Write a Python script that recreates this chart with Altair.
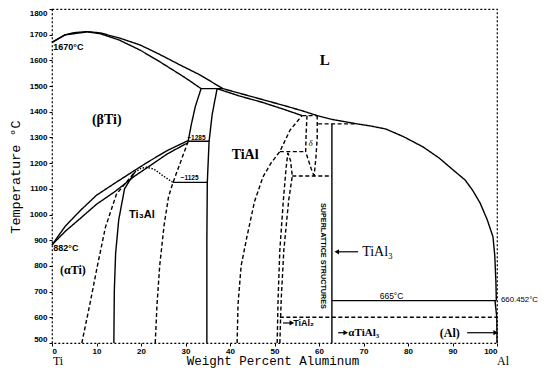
import altair as alt
import pandas as pd

# ---- phase boundaries: (wt% Al, temperature °C) ----
liq_left = [(0, 1670), (2.9, 1699), (5, 1708), (7.9, 1712), (10.8, 1707), (15, 1688), (19.8, 1660),
            (24, 1625), (28.8, 1582), (33.3, 1543), (38.4, 1490)]
sol_left = [(0, 1670), (2.9, 1699), (7.9, 1711), (10.8, 1704), (15, 1680), (19.8, 1640), (24, 1597),
            (28.8, 1545), (31, 1520), (33.5, 1490)]
peri_1490 = [(33.5, 1490), (38.4, 1490)]
liq_mid = [(38.4, 1490), (43, 1468), (47.4, 1447), (52, 1425), (56.2, 1404), (59.6, 1385)]
sol_mid = [(37.1, 1490), (42, 1462), (47.4, 1436), (52, 1410), (56.2, 1385)]
peri_1385 = [(56.2, 1385), (59.6, 1385)]
liq_right = [(59.6, 1385), (63, 1370), (68.5, 1353), (71.5, 1345), (75, 1333), (79, 1303), (83.4, 1263),
             (87, 1220), (90.1, 1174), (92.8, 1135), (94.5, 1095), (96.2, 1045), (97.8, 980), (99.1, 913),
             (99.5, 840), (99.75, 740), (99.85, 665)]
peri_1350 = [(59.8, 1353), (68.5, 1353)]
tial3_line = [(62.9, 1353), (62.9, 500)]
beta_upper = [(0, 882), (3, 955), (6.5, 1018), (10, 1075), (14.2, 1123), (18.6, 1172), (21.6, 1205),
              (26, 1250), (30.6, 1288)]
beta_lower = [(0, 882), (3, 935), (6.5, 987), (10, 1040), (14.2, 1090), (18.6, 1150), (21.6, 1185),
              (26, 1237), (30.6, 1280)]
line_1285 = [(30.6, 1285), (35.3, 1285)]
alpha_tial_top = [(30.6, 1285), (31.3, 1350), (32.2, 1420), (33.5, 1490)]
tial_left = [(34.8, 500), (34.8, 900), (34.9, 1125), (35.3, 1285), (36.0, 1390), (37.1, 1490)]
line_1125 = [(27.2, 1125), (34.9, 1125)]
ti3al_dome = [(18.6, 1165), (20, 1180), (21.3, 1184), (23, 1176), (25, 1150), (27.2, 1125)]
ti3al_right = [(23.2, 500), (23.6, 650), (24.2, 800), (25.2, 960), (26.2, 1070), (27.2, 1125),
               (28.9, 1205), (30.6, 1285)]
alpha_solvus = [(6.7, 500), (8.5, 650), (10.2, 800), (12, 950), (14.5, 1080), (18.6, 1165)]
ti3al_left = [(13.9, 500), (14.0, 700), (14.3, 850), (15, 980), (16.3, 1100), (18.6, 1165)]
tial_right = [(41.6, 500), (41.8, 650), (42.5, 800), (43.8, 913), (45.5, 1050), (47.4, 1146),
              (49.2, 1200), (51.2, 1245), (53.5, 1329), (56.2, 1385)]
line_1245 = [(51.2, 1245), (57.0, 1245)]
delta_left = [(57.3, 1385), (57.1, 1310), (57.0, 1245), (58.2, 1180), (58.9, 1150)]
delta_right = [(59.6, 1385), (59.6, 1300), (59.3, 1220), (58.9, 1150)]
line_1150 = [(54.0, 1150), (62.9, 1150)]
tial2_a = [(50.6, 500), (50.8, 668), (51.2, 862), (52.0, 1057), (52.6, 1180), (53.0, 1240)]
tial2_b = [(51.2, 500), (51.5, 668), (52.1, 862), (53.2, 1057), (54.0, 1150), (53.6, 1210), (53.0, 1240)]
line_665 = [(62.9, 665), (99.85, 665)]
line_600 = [(51.2, 600), (100, 600)]
al_solvus = [(99.55, 665), (99.95, 600), (100, 500)]

curves = {
    "liq_left": ("solid", liq_left), "sol_left": ("solid", sol_left), "peri_1490": ("solid", peri_1490),
    "liq_mid": ("solid", liq_mid), "sol_mid": ("solid", sol_mid), "peri_1385": ("dashed", peri_1385),
    "liq_right": ("solid", liq_right), "peri_1350": ("dashed", peri_1350), "tial3": ("solid", tial3_line),
    "beta_upper": ("solid", beta_upper), "beta_lower": ("solid", beta_lower), "l1285": ("solid", line_1285),
    "alpha_tial_top": ("solid", alpha_tial_top), "tial_left": ("solid", tial_left),
    "l1125": ("solid", line_1125), "dome": ("dotted", ti3al_dome), "ti3al_right": ("dashed", ti3al_right),
    "alpha_solvus": ("dashed", alpha_solvus), "ti3al_left": ("solid", ti3al_left),
    "tial_right": ("dashed", tial_right), "l1245": ("dashed", line_1245), "delta_left": ("dashed", delta_left),
    "delta_right": ("dashed", delta_right), "l1150": ("dashed", line_1150), "tial2_a": ("dashed", tial2_a),
    "tial2_b": ("dashed", tial2_b), "l665": ("solid", line_665), "l600": ("dashed", line_600),
    "al_solvus": ("solid", al_solvus),
}

rows = []
for name, (style, pts) in curves.items():
    for i, (xv, tv) in enumerate(pts):
        rows.append({"seg": name, "style": style, "ord": i, "x": xv, "T": tv})
lines_df = pd.DataFrame(rows)

# arrows: (x_start, x_end, T, head direction)
arrows = [(64.0, 68.8, 855, "left"), (51.9, 53.9, 578, "right"), (64.3, 66.0, 540, "right"),
          (93.3, 99.7, 540, "right")]
arrow_df = pd.DataFrame([{"x": a, "x2": b, "T": t, "hx": (a if d == "left" else b),
                          "shape": ("triangle-left" if d == "left" else "triangle-right")}
                         for a, b, t, d in arrows])

x_ticks = list(range(0, 101, 10))
y_ticks = list(range(500, 1801, 100))

xs = alt.Scale(domain=[0, 100], nice=False, zero=False)
ys = alt.Scale(domain=[500, 1800], nice=False, zero=False)
x_axis = alt.Axis(values=x_ticks, title=None, domain=False, grid=False, tickSize=3, tickColor="black",
                  labelFontSize=8, labelFont="Liberation Sans", labelFontWeight="bold", labelColor="black",
                  labelPadding=1, format="d", labelOverlap=False)
y_axis = alt.Axis(values=y_ticks, title=None, domain=False, grid=False, tickSize=3, tickColor="black",
                  labelFontSize=8, labelFont="Liberation Sans", labelFontWeight="bold", labelColor="black",
                  labelPadding=2, format="d", labelOverlap=False, tickCount=14, labelFlush=1)


def X(field="x"):
    return alt.X(f"{field}:Q", scale=xs, axis=x_axis)


def Y(field="T"):
    return alt.Y(f"{field}:Q", scale=ys, axis=y_axis)


lines = alt.Chart(lines_df).mark_line(color="black", strokeWidth=1.4).encode(
    x=X(), y=Y(), detail="seg:N", order="ord:Q",
    strokeDash=alt.StrokeDash("style:N", legend=None,
                              scale=alt.Scale(domain=["solid", "dashed", "dotted"],
                                              range=[[1, 0], [4, 2.5], [1.5, 1.5]])))

arrow_lines = alt.Chart(arrow_df).mark_rule(color="black", strokeWidth=1.2).encode(
    x=X(), x2="x2:Q", y=Y())
arrow_heads = alt.Chart(arrow_df).mark_point(color="black", filled=True, size=28, opacity=1).encode(
    x=X("hx"), y=Y(), shape=alt.Shape("shape:N", scale=None))


def labels(items, **kw):
    df = pd.DataFrame(items, columns=["x", "T", "label"])
    return alt.Chart(df).mark_text(color="black", **kw).encode(x=X(), y=Y(), text="label:N")


serif_big = labels([(61.3, 1601, "L")], font="Liberation Serif", fontSize=15, fontWeight="bold")
serif_mid = labels([(12.3, 1368, "(βTi)"), (43.4, 1232, "TiAl")],
                   font="Liberation Serif", fontSize=14, fontWeight="bold")
serif_left = labels([(69.7, 855, "TiAl₃")], font="Liberation Serif", fontSize=14, align="left")
serif_small = labels([(4.7, 785, "(αTi)"), (89.4, 540, "(Al)")],
                     font="Liberation Serif", fontSize=12, fontWeight="bold")
alpha_lbl = labels([(66.6, 540, "αTiAl₃")], font="Liberation Serif", fontSize=11, fontWeight="bold",
                   align="left")
ti3al_lbl = labels([(20.2, 999, "Ti₃Al")], font="Liberation Sans", fontSize=11, fontWeight="bold")
tial2_lbl = labels([(54.2, 578, "TiAl₂")], font="Liberation Sans", fontSize=9, fontWeight="bold",
                   align="left")
temp_left = labels([(0.3, 1652, "1670°C"), (0.3, 870, "882°C")], font="Liberation Sans", fontSize=9,
                   fontWeight="bold", align="left")
temp_mid = labels([(76.3, 683, "665°C")], font="Liberation Sans", fontSize=8.5)
temp_right = labels([(100.9, 668, "660.452°C")], font="Liberation Sans", fontSize=7.8, align="left")
tiny = labels([(30.4, 1297, "~1285"), (28.9, 1143, "~1125")], font="Liberation Sans", fontSize=6.5,
              fontWeight="bold", align="left")
delta_lbl = labels([(58.1, 1279, "δ")], font="Liberation Serif", fontSize=9, fontStyle="italic")
super_lbl = labels([(60.9, 839, "SUPERLATTICE STRUCTURES")], font="Liberation Sans", fontSize=7.2,
                   fontWeight="bold", angle=90)
ends = labels([(0, 500, "Ti"), (100, 500, "Al")], font="Liberation Serif", fontSize=12, dx=6, dy=22,
              baseline="alphabetic")

x_title = alt.Chart(pd.DataFrame({"t": ["Weight Percent Aluminum"]})).mark_text(
    font="Liberation Mono", fontSize=12.5, color="black", baseline="alphabetic").encode(
    text="t:N", x=alt.value(221), y=alt.value(356))
y_title = alt.Chart(pd.DataFrame({"t": ["Temperature °C"]})).mark_text(
    font="Liberation Mono", fontSize=13.5, color="black", angle=270).encode(
    text="t:N", x=alt.value(-36), y=alt.value(168))

chart = alt.layer(
    lines, arrow_lines, arrow_heads, serif_big, serif_mid, serif_left, serif_small, alpha_lbl, ti3al_lbl,
    tial2_lbl, temp_left, temp_mid, temp_right, tiny, delta_lbl, super_lbl, ends, x_title, y_title
).properties(
    width=445, height=334,
    autosize=alt.AutoSizeParams(type="none"),
    padding={"left": 44, "top": 1, "right": 45, "bottom": 25},
    background="white",
).configure_view(stroke="black", strokeDash=[2, 2], strokeWidth=1.2)

chart.save("out.html", embed_options={"renderer": "svg", "actions": False})
